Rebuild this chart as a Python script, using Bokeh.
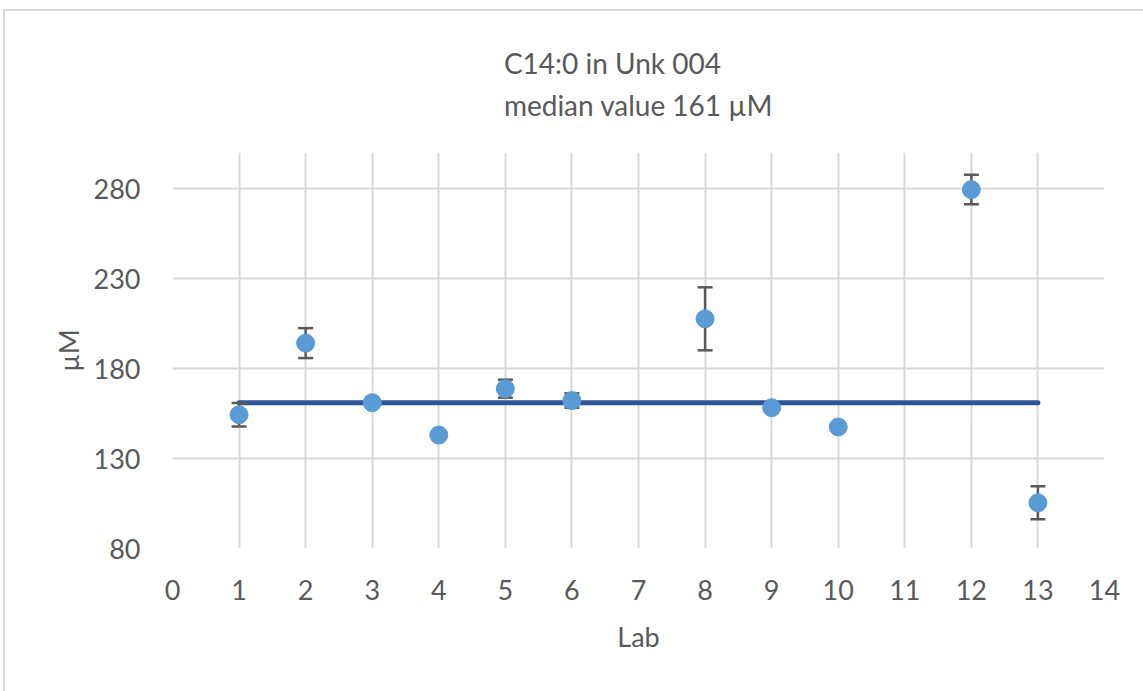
from bokeh.plotting import figure
from bokeh.models import ColumnDataSource, Whisker, TeeHead, FixedTicker, Range1d, Title
from bokeh.embed import file_html
from bokeh.resources import INLINE

# Lab results for C14:0 in Unk 004 (µM), with per-lab spread
labs = [1, 2, 3, 4, 5, 6, 8, 9, 10, 12, 13]
values = [154.3, 194.1, 161.0, 143.0, 168.8, 162.2, 207.6, 158.2, 147.5, 279.4, 105.4]
spread = [6.5, 8.3, 0.0, 0.0, 5.0, 4.0, 17.5, 0.0, 0.0, 8.2, 9.2]
median_value = 161
median_span = [1, 13]

x_ticks = list(range(0, 15))
y_ticks = [80, 130, 180, 230, 280]

FONT = "Lato"
TEXT = "#595959"
GRID = "#D9D9D9"

p = figure(
    frame_width=932, frame_height=396,
    x_range=Range1d(0, 14), y_range=Range1d(80, 300),
    output_backend="svg", toolbar_location=None,
    min_border_left=167, min_border_right=39,
    min_border_top=141, min_border_bottom=143,
)
p.styles = {
    "margin-left": "3px", "margin-top": "9px",
    "border-left": "2px solid #D9D9D9", "border-top": "2px solid #D9D9D9",
}

p.add_layout(Title(text="C14:0 in Unk 004\nmedian value 161 µM", align="center",
                   text_font=FONT, text_font_size="28px", text_font_style="normal",
                   text_color=TEXT, text_line_height=1.25, standoff=61), "above")

p.outline_line_color = None
p.background_fill_color = "white"
p.border_fill_color = "white"

for ax in (p.xaxis, p.yaxis):
    ax.axis_line_color = None
    ax.major_tick_line_color = None
    ax.minor_tick_line_color = None
    ax.major_label_text_font = FONT
    ax.major_label_text_font_size = "27px"
    ax.major_label_text_color = TEXT
    ax.axis_label_text_font = FONT
    ax.axis_label_text_font_size = "27px"
    ax.axis_label_text_color = TEXT
    ax.axis_label_text_font_style = "normal"

p.xaxis.ticker = FixedTicker(ticks=x_ticks)
p.yaxis.ticker = FixedTicker(ticks=y_ticks)
p.xaxis.major_label_standoff = 25
p.yaxis.major_label_standoff = 26
p.xaxis.axis_label = "Lab"
p.yaxis.axis_label = "µM"
p.xaxis.axis_label_standoff = 17
p.yaxis.axis_label_standoff = 6

p.xgrid.ticker = FixedTicker(ticks=x_ticks)
p.ygrid.ticker = FixedTicker(ticks=y_ticks)
p.xgrid.grid_line_color = GRID
p.ygrid.grid_line_color = GRID
p.xgrid.grid_line_width = 2
p.ygrid.grid_line_width = 2

# error bars (only labs that reported a spread)
err_x, err_lo, err_hi = [], [], []
for x, v, s in zip(labs, values, spread):
    if s > 0:
        err_x.append(x)
        err_lo.append(v - s)
        err_hi.append(v + s)
err_src = ColumnDataSource(dict(x=err_x, lower=err_lo, upper=err_hi))
whisker = Whisker(
    source=err_src, base="x", lower="lower", upper="upper",
    line_color="#595959", line_width=2.5,
    upper_head=TeeHead(size=15, line_color="#595959", line_width=2.5),
    lower_head=TeeHead(size=15, line_color="#595959", line_width=2.5),
    level="glyph",
)
p.add_layout(whisker)

# median line
p.line(median_span, [median_value, median_value], line_color="#2F5597",
       line_width=5, line_cap="round", level="glyph")

# lab values
src = ColumnDataSource(dict(x=labs, y=values))
p.scatter("x", "y", source=src, size=18, fill_color="#5B9BD5",
          line_color="#5B9BD5", level="overlay")

open("out.html", "w").write(file_html(p, INLINE))
